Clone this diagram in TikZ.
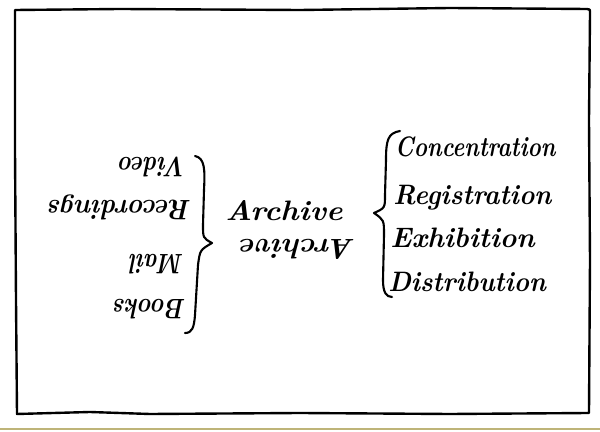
\documentclass[tikz,border=0pt]{standalone}
\usepackage{fontspec}
\setmainfont{Latin Modern Roman}
\tikzset{
  ink/.style={draw=black, line width=1.7pt, line cap=round, line join=round},
  brace/.style={draw=black, line width=1.5pt, line cap=round, line join=round},
  word/.style={font=\fontsize{20}{24}\selectfont\bfseries\itshape, inner sep=0pt},
  flip/.style={word, rotate=180},
}
\begin{document}
\begin{tikzpicture}[x=0.025cm, y=-0.025cm]
\useasboundingbox (0,0) rectangle (600,432);
\fill[white] (0,0) rectangle (600,432);
\draw[color={rgb,255:red,190;green,180;blue,120}, line width=1pt] (0,429) -- (600,429);
% border
\draw[ink] (15,10) -- (120,9) -- (300,10) -- (450,8) -- (587,9)
  .. controls (590,9) .. (590,14) -- (589,120) -- (590,260) -- (589,413)
  -- (450,414) -- (300,413) -- (150,414) -- (90,412) -- (17,414)
  -- (16,300) -- (15,150) -- cycle;
% left brace (closing)
\coordinate (lbt) at (195,156);
\coordinate (lbm) at (212,243);
\coordinate (lbb) at (185,333);
\draw[brace] (lbt) .. controls (205,158) and (205,170) .. (204,190)
  -- (203,225) .. controls (203,238) .. (lbm)
  .. controls (200,250) .. (198,265) -- (195,315)
  .. controls (194,328) and (192,333) .. (lbb);
% right brace (opening)
\coordinate (rbt) at (400,131);
\coordinate (rbm) at (374,213);
\coordinate (rbb) at (392,297);
\draw[brace] (rbt) .. controls (388,133) and (386,140) .. (386,160)
  -- (385,195) .. controls (385,208) .. (rbm)
  .. controls (384,220) .. (384,235) -- (383,280)
  .. controls (383,292) and (386,297) .. (rbb);
% centre words
\node[word, xscale=1.1] (arc) at (284,211) {Archive};
\node[flip, xscale=1.08] (arcf) at (298,249) {Archive};
% left words (upside down)
\node[flip, xscale=0.85] (video) at (153,167) {Video};
\node[flip, xscale=0.94] (rec) at (120,207) {Recordings};
\node[flip, xscale=0.82] (mail) at (157,264) {Mail};
\node[flip, xscale=0.86] (books) at (150,309) {Books};
% right words
\node[word, xscale=0.8, anchor=base west] (conc) at (395,157) {Concentration};
\node[word, xscale=0.93, anchor=base west] (reg) at (393,205) {Registration};
\node[word, xscale=1.0, anchor=base west] (exh) at (390,248) {Exhibition};
\node[word, xscale=0.92, anchor=base west] (dist) at (388,292) {Distribution};
\end{tikzpicture}
\end{document}
